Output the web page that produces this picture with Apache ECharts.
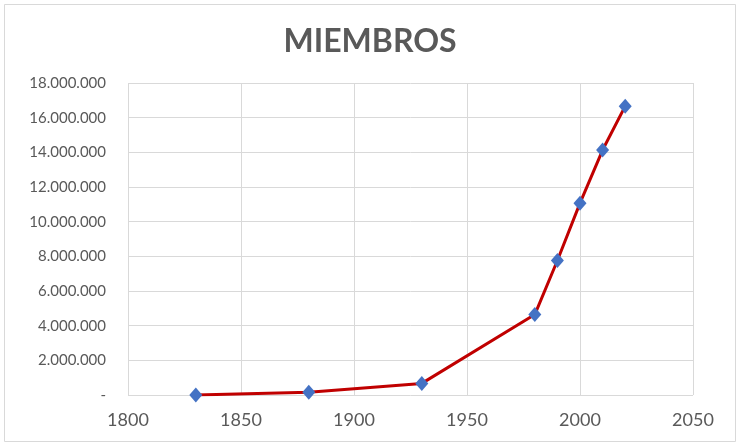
<!DOCTYPE html>
<html><head><meta charset="utf-8">
<script src="https://cdn.jsdelivr.net/npm/echarts@6/dist/echarts.min.js"></script>
<style>html,body{margin:0;padding:0;background:#fff}#c{width:740px;height:447px}</style>
</head><body><div id="c"></div>
<script>
const years = [1830, 1880, 1930, 1980, 1990, 2000, 2010, 2020];
const members = [6, 160785, 670017, 4639822, 7761207, 11068861, 14131467, 16663663];
const title = 'MIEMBROS';

const chart = echarts.init(document.getElementById('c'));
function fmt(v){
  if (v === 0) return '-';
  return String(Math.round(v)).replace(/\B(?=(\d{3})+(?!\d))/g, '.');
}
chart.setOption({
  animation: false,
  backgroundColor: '#fff',
  graphic: [{type:'rect', shape:{x:4.5,y:4.5,width:731,height:437}, style:{fill:'none', stroke:'#D9D9D9', lineWidth:1}, silent:true}],
  title: {text: title, left: 'center', top: 21, textStyle:{fontFamily:'Lato', fontWeight:'bold', fontSize:32, color:'#595959'}},
  grid: {left:128, right:47, top:83, bottom:52},
  xAxis: {type:'value', min:1800, max:2050, interval:50,
    axisLine:{show:false}, axisTick:{show:false},
    splitLine:{show:true, lineStyle:{color:'#D9D9D9', width:1}},
    axisLabel:{color:'#595959', fontFamily:'Lato', fontSize:18, margin:16, formatter: v => String(v)}},
  yAxis: {type:'value', min:0, max:18000000, interval:2000000,
    axisLine:{show:false}, axisTick:{show:false},
    splitLine:{show:true, lineStyle:{color:'#D9D9D9', width:1}},
    axisLabel:{color:'#595959', fontFamily:'Lato', fontSize:15, margin:22, formatter: fmt}},
  series: [{type:'line', data: years.map((y,i)=>[y, members[i]]),
    lineStyle:{color:'#C00000', width:3},
    symbol:'diamond', symbolSize:[13,15],
    itemStyle:{color:'#4472C4'}}]
});
</script></body></html>
